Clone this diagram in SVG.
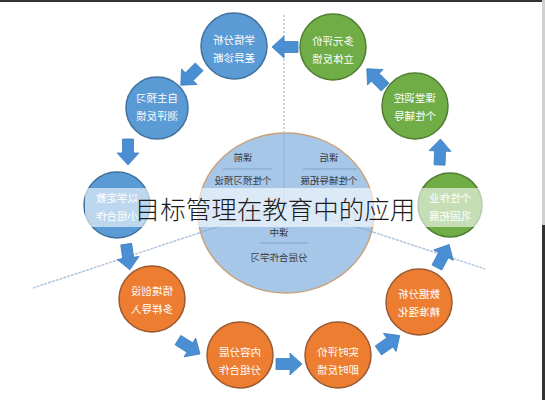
<svg xmlns="http://www.w3.org/2000/svg" width="545" height="400" viewBox="0 0 545 400">
<defs>
<style>
.nt{font-family:"Noto Sans CJK SC","Noto Sans",sans-serif;font-size:10.5px;fill:#ffffff;text-anchor:middle}
.ct{font-family:"Noto Sans CJK SC","Noto Sans",sans-serif;font-size:9.5px;fill:#3a3a3a;text-anchor:middle}
.blue{fill:#5B9BD5;stroke:#41719C;stroke-width:1.5}
.green{fill:#70AD47;stroke:#507E32;stroke-width:1.5}
.orange{fill:#ED7D31;stroke:#9a5a33;stroke-width:1.5}
.arr{fill:#4a8fd3;stroke:#3f7fbf;stroke-width:0.8}
.guide{stroke:#b3c6dd;stroke-width:1.5;fill:none}
</style>
<path id="ar" d="M-13,-5.5 L1,-5.5 L1,-11 L13,0 L1,11 L1,5.5 L-13,5.5 Z"/>
</defs>
<rect x="0" y="0" width="545" height="400" fill="#ffffff"/>
<rect x="0" y="0" width="545" height="2" fill="#333333"/>
<rect x="542" y="0" width="3" height="400" fill="#d0d0d0"/>
<rect x="542" y="225" width="3" height="175" fill="#333333"/>

<g id="connectors">
<line class="guide" x1="284" y1="15" x2="284" y2="132" stroke-dasharray="2 2" stroke="#9fb6cf"/>
<line class="guide" x1="199" y1="233" x2="33" y2="288" stroke-dasharray="3 1"/>
<line class="guide" x1="373" y1="232" x2="485" y2="269" stroke-dasharray="3 1"/>
<use href="#ar" class="arr" transform="translate(285,47) rotate(180)"/>
<use href="#ar" class="arr" transform="translate(190,76) rotate(135)"/>
<use href="#ar" class="arr" transform="translate(128,152) rotate(90)"/>
<use href="#ar" class="arr" transform="translate(128,257) rotate(82)"/>
<use href="#ar" class="arr" transform="translate(189,347) rotate(32)"/>
<use href="#ar" class="arr" transform="translate(289,364) rotate(0)"/>
<use href="#ar" class="arr" transform="translate(389,343) rotate(-35)"/>
<use href="#ar" class="arr" transform="translate(443,256) rotate(-62)"/>
<use href="#ar" class="arr" transform="translate(440,152) rotate(-88)"/>
<use href="#ar" class="arr" transform="translate(376,78) rotate(-135)"/>
</g>

<g id="center">
<ellipse cx="286" cy="213" rx="88" ry="80" fill="#a7c7e9" stroke="#c9a27a" stroke-width="1.5"/>
<line x1="284" y1="133" x2="284" y2="205" stroke="#8fb0d0" stroke-width="1"/>
<line x1="284" y1="205" x2="199" y2="233" stroke="#8fb0d0" stroke-width="1"/>
<line x1="284" y1="205" x2="373" y2="232" stroke="#8fb0d0" stroke-width="1"/>
<line x1="223" y1="169" x2="272" y2="169" stroke="#7fa3c9" stroke-width="1"/>
<line x1="303" y1="169" x2="357" y2="169" stroke="#7fa3c9" stroke-width="1"/>
<line x1="260" y1="243" x2="308" y2="243" stroke="#7fa3c9" stroke-width="1"/>
<g transform="matrix(-1 0 0 1 486 0)"><text class="ct" x="243" y="161">课前</text><text class="ct" x="243" y="184">个性预习预设</text></g>
<g transform="matrix(-1 0 0 1 658 0)"><text class="ct" x="329" y="161">课后</text><text class="ct" x="329" y="184">个性辅导拓展</text></g>
<g transform="matrix(-1 0 0 1 558 0)"><text class="ct" x="279" y="236">课中</text><text class="ct" x="279" y="261">分层合作学习</text></g>
</g>

<g id="n1"><circle class="blue" cx="234" cy="46" r="33"/><g transform="matrix(-1 0 0 1 468 0)"><text class="nt" x="234" y="44">学情分析</text><text class="nt" x="234" y="62">差异诊断</text></g></g>
<g id="n2"><circle class="green" cx="333" cy="47" r="33"/><g transform="matrix(-1 0 0 1 666 0)"><text class="nt" x="333" y="45">多元评价</text><text class="nt" x="333" y="63">立体反馈</text></g></g>
<g id="n3"><circle class="blue" cx="157" cy="108" r="31"/><g transform="matrix(-1 0 0 1 314 0)"><text class="nt" x="157" y="102">自主预习</text><text class="nt" x="157" y="120">测评反馈</text></g></g>
<g id="n4"><circle class="green" cx="415" cy="106" r="33"/><g transform="matrix(-1 0 0 1 830 0)"><text class="nt" x="415" y="102">课堂调控</text><text class="nt" x="415" y="120">个性辅导</text></g></g>
<g id="n5"><circle class="blue" cx="117" cy="205" r="33"/><g transform="matrix(-1 0 0 1 234 0)"><text class="nt" x="117" y="202">以学定教</text><text class="nt" x="117" y="220">小组合作</text></g></g>
<g id="n6"><circle class="green" cx="450" cy="205" r="32"/><g transform="matrix(-1 0 0 1 900 0)"><text class="nt" x="450" y="202">个性作业</text><text class="nt" x="450" y="220">巩固拓展</text></g></g>
<g id="n7"><circle class="orange" cx="152" cy="299" r="33"/><g transform="matrix(-1 0 0 1 304 0)"><text class="nt" x="152" y="295">情境创设</text><text class="nt" x="152" y="313">多样导入</text></g></g>
<g id="n8"><circle class="orange" cx="240" cy="355" r="33"/><g transform="matrix(-1 0 0 1 480 0)"><text class="nt" x="240" y="356">内容分层</text><text class="nt" x="240" y="374">分组合作</text></g></g>
<g id="n9"><circle class="orange" cx="338" cy="355" r="33"/><g transform="matrix(-1 0 0 1 676 0)"><text class="nt" x="338" y="356">实时评价</text><text class="nt" x="338" y="374">即时反馈</text></g></g>
<g id="n10"><circle class="orange" cx="419" cy="302" r="33"/><g transform="matrix(-1 0 0 1 838 0)"><text class="nt" x="419" y="298">数据分析</text><text class="nt" x="419" y="316">精准强化</text></g></g>

<g id="title">
<rect x="85" y="188" width="402" height="39" fill="#ffffff" fill-opacity="0.6"/>
<text x="275" y="219" font-family="Noto Sans CJK SC, sans-serif" font-size="25.5" fill="#1c1c1c" text-anchor="middle" font-weight="300">目标管理在教育中的应用</text>
</g>
</svg>
